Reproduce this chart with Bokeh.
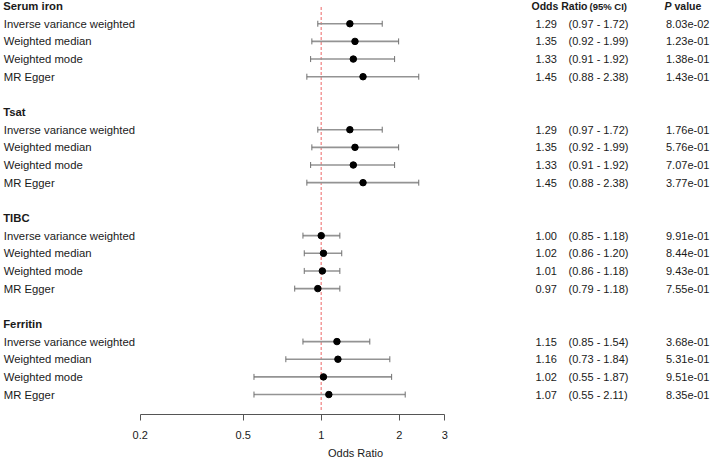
import numpy as np
from bokeh.plotting import figure
from bokeh.models import ColumnDataSource, Range1d, LinearScale, FixedTicker
from bokeh.core.properties import value
from bokeh.embed import file_html
from bokeh.resources import INLINE

# ---- data ----
exposures = ["Serum iron", "Tsat", "TIBC", "Ferritin"]
methods = ["Inverse variance weighted", "Weighted median", "Weighted mode", "MR Egger"]
or_vals = [1.29, 1.35, 1.33, 1.45,
           1.29, 1.35, 1.33, 1.45,
           1.00, 1.02, 1.01, 0.97,
           1.15, 1.16, 1.02, 1.07]
ci_low = [0.97, 0.92, 0.91, 0.88,
          0.97, 0.92, 0.91, 0.88,
          0.85, 0.86, 0.86, 0.79,
          0.85, 0.73, 0.55, 0.55]
ci_high = [1.72, 1.99, 1.92, 2.38,
           1.72, 1.99, 1.92, 2.38,
           1.18, 1.20, 1.18, 1.18,
           1.54, 1.84, 1.87, 2.11]
p_values = ["8.03e-02", "1.23e-01", "1.38e-01", "1.43e-01",
            "1.76e-01", "5.76e-01", "7.07e-01", "3.77e-01",
            "9.91e-01", "8.44e-01", "9.43e-01", "7.55e-01",
            "3.68e-01", "5.31e-01", "9.51e-01", "8.35e-01"]
x_ticks = [0.2, 0.5, 1, 2, 3]
x_tick_labels = ["0.2", "0.5", "1", "2", "3"]
null_value = 1
x_label = "Odds Ratio"
col_headers = ["Odds Ratio", "(95% CI)", "P", "value"]

# ---- row layout ----
n_m = len(methods)
group_step = n_m + 2
header_rows = [g * group_step for g in range(len(exposures))]
rows, labels, or_txt, ci_txt = [], [], [], []
k = 0
for g in range(len(exposures)):
    for m in range(n_m):
        rows.append(header_rows[g] + 1 + m)
        labels.append(methods[m])
        or_txt.append(f"{or_vals[k]:.2f}")
        ci_txt.append(f"({ci_low[k]:.2f} - {ci_high[k]:.2f})")
        k += 1

W, H = 710, 461
AX_L, AX_R = 139.7, 444.3      # pixel span of the 0.2 .. 3 axis
FB = 46
FH = H - FB
row0, row_h = 5.6, 17.7
y_top = -row0 / row_h
y_bot = (FH - row0) / row_h

# log range such that the axis bounds fall at AX_L .. AX_R
lspan = np.log(x_ticks[-1] / x_ticks[0]) / (AX_R - AX_L)
x_start = x_ticks[0] * np.exp(-AX_L * lspan)
x_end = x_ticks[-1] * np.exp((W - AX_R) * lspan)

p = figure(output_backend="svg", toolbar_location=None,
           x_axis_type="log", x_range=Range1d(x_start, x_end),
           y_range=Range1d(y_bot, y_top), y_axis_location=None,
           width=W, height=H,
           min_border_left=0, min_border_right=0,
           min_border_top=0, min_border_bottom=FB)
p.extra_x_ranges = {"px": Range1d(0, W)}
p.extra_x_scales = {"px": LinearScale()}
p.outline_line_color = None
p.xgrid.visible = False
p.ygrid.visible = False
p.background_fill_color = "white"
p.border_fill_color = "white"

FONT = "Liberation Sans"
TXT = "#1a1a1a"

ax = p.xaxis[0]
ax.bounds = (x_ticks[0], x_ticks[-1])
ax.ticker = FixedTicker(ticks=x_ticks, minor_ticks=[])
ax.major_label_overrides = {t: s for t, s in zip(x_ticks, x_tick_labels)}
ax.axis_line_color = "#555555"
ax.major_tick_line_color = "#555555"
ax.minor_tick_line_color = None
ax.major_tick_out = 6
ax.major_tick_in = 0
ax.major_label_standoff = 10
ax.major_label_text_font = FONT
ax.major_label_text_font_size = "11px"
ax.major_label_text_color = TXT
ax.axis_label = x_label
ax.axis_label_text_font = FONT
ax.axis_label_text_font_size = "11px"
ax.axis_label_text_font_style = "normal"
ax.axis_label_text_color = TXT
ax.axis_label_standoff = 5

# null line
p.segment(x0=[null_value], x1=[null_value], y0=[header_rows[0] + 0.05],
          y1=[rows[-1] + 0.95], line_color="#f39a9a", line_width=1.5,
          line_dash="3 2")

src = ColumnDataSource(dict(y=rows, orv=or_vals, lo=ci_low, hi=ci_high,
                            lab=labels, ortxt=or_txt, citxt=ci_txt,
                            pv=p_values,
                            xl=[3.3] * len(rows), xo=[535.0] * len(rows),
                            xc=[568.0] * len(rows), xp=[665.5] * len(rows)))

p.segment(x0="lo", x1="hi", y0="y", y1="y", source=src,
          line_color="#939393", line_width=1.6)
p.scatter(x="lo", y="y", source=src, marker="dash", angle=np.pi / 2,
          size=6, line_color="#707070", line_width=1)
p.scatter(x="hi", y="y", source=src, marker="dash", angle=np.pi / 2,
          size=6, line_color="#707070", line_width=1)
p.scatter(x="orv", y="y", source=src, marker="circle", size=6.5,
          fill_color="black", line_color="black")

def txt(source, x, text, size="11.3px", style="normal"):
    p.text(x=x, y="y", text=text, source=source, x_range_name="px",
           text_font=value(FONT), text_font_size=size, text_font_style=style,
           text_baseline="middle", text_align="left", text_color=TXT)

txt(src, "xl", "lab")
txt(src, "xo", "ortxt", size="11px")
txt(src, "xc", "citxt", size="11px")
txt(src, "xp", "pv", size="11px")

hsrc = ColumnDataSource(dict(y=header_rows, t=exposures, x=[2.7] * len(header_rows)))
txt(hsrc, "x", "t", style="bold")

csrc1 = ColumnDataSource(dict(y=[header_rows[0]] * 2, t=[col_headers[0], col_headers[3]],
                              x=[531.0, 674.0]))
txt(csrc1, "x", "t", size="10.5px", style="bold")
csrc2 = ColumnDataSource(dict(y=[header_rows[0]], t=[col_headers[1]], x=[589.0]))
txt(csrc2, "x", "t", size="9.5px", style="bold")
csrc3 = ColumnDataSource(dict(y=[header_rows[0]], t=[col_headers[2]], x=[664.0]))
txt(csrc3, "x", "t", size="10.5px", style="bold italic")

open("out.html", "w").write(file_html(p, INLINE))
